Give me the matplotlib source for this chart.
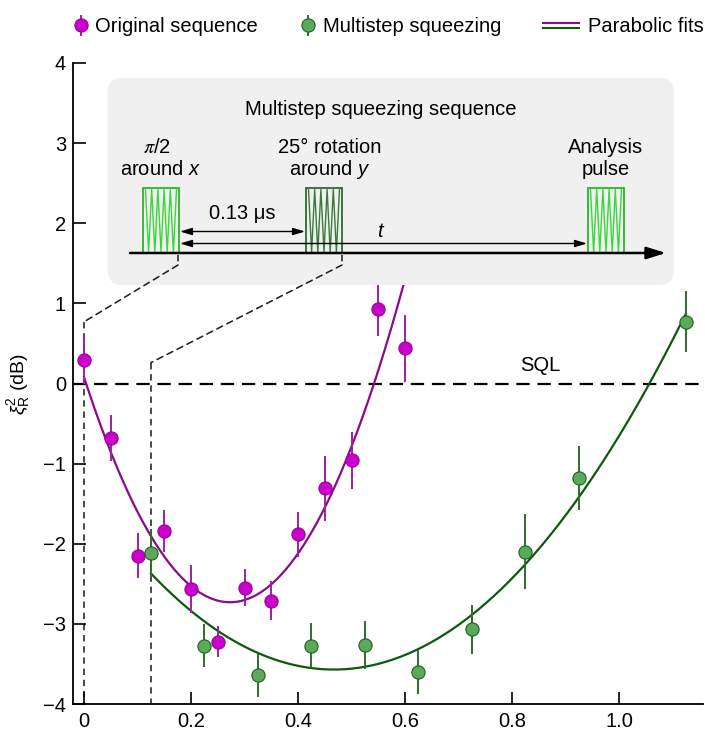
import numpy as np
import matplotlib
matplotlib.use("Agg")
import matplotlib.pyplot as plt
from matplotlib.patches import FancyBboxPatch, Rectangle, ConnectionPatch
from matplotlib.lines import Line2D
from matplotlib.legend_handler import HandlerBase

plt.rcParams["font.family"] = ["Liberation Sans", "DejaVu Sans"]
plt.rcParams["mathtext.fontset"] = "custom"
plt.rcParams["mathtext.rm"] = "Liberation Sans"
plt.rcParams["mathtext.it"] = "Liberation Sans:italic"
plt.rcParams["mathtext.sf"] = "Liberation Sans"
FS = 14.5

# --- measured squeezing vs. evolution time (us) ---
t_orig = [0.0, 0.05, 0.10, 0.15, 0.20, 0.25, 0.30, 0.35, 0.40, 0.45, 0.50, 0.55, 0.60]
xi_orig = [0.29, -0.68, -2.15, -1.84, -2.56, -3.22, -2.55, -2.71, -1.88, -1.31, -0.96, 0.93, 0.44]
err_orig = [0.30, 0.29, 0.28, 0.26, 0.30, 0.19, 0.23, 0.24, 0.28, 0.41, 0.36, 0.34, 0.42]

t_multi = [0.125, 0.225, 0.325, 0.425, 0.525, 0.625, 0.725, 0.825, 0.925, 1.125]
xi_multi = [-2.11, -3.27, -3.64, -3.27, -3.26, -3.60, -3.07, -2.10, -1.18, 0.77]
err_multi = [0.30, 0.27, 0.27, 0.28, 0.30, 0.27, 0.31, 0.47, 0.40, 0.38]

# parabolic fits: curvature, vertex time, vertex value, fit range
fit_orig = dict(a=37.7, t0=0.273, y0=-2.73, t_range=(0.0, 0.64))
fit_multi = dict(a=10.26, t0=0.467, y0=-3.57, t_range=(0.125, 1.125))

x_ticks = [0, 0.2, 0.4, 0.6, 0.8, 1.0]
x_ticklabels = ["0", "0.2", "0.4", "0.6", "0.8", "1.0"]
y_ticks = [-4, -3, -2, -1, 0, 1, 2, 3, 4]

C_ORIG_FILL, C_ORIG_EDGE, C_ORIG_LINE = "#cc00cc", "#990099", "#8b0a8b"
C_MULTI_FILL, C_MULTI_EDGE, C_MULTI_LINE = "#5aaa5a", "#1f5f1f", "#0b5a0b"

W, H = 705, 735
fig = plt.figure(figsize=(W / 100, H / 100), dpi=100)
ax = fig.add_axes([73 / W, 31 / H, 630 / W, 641 / H])
ax.set_xlim(-0.0206, 1.157)
ax.set_ylim(-4, 4)

for side in ("top", "right"):
    ax.spines[side].set_visible(False)
for side in ("left", "bottom"):
    ax.spines[side].set_linewidth(1.3)
ax.tick_params(direction="in", length=9, width=1.2, labelsize=FS)
ax.tick_params(axis="y", pad=5)
ax.tick_params(axis="x", pad=6)
ax.set_xticks(x_ticks)
ax.set_xticklabels(x_ticklabels)
ax.set_yticks(y_ticks)
ax.set_ylabel(r"$\xi^2_{\mathrm{R}}$ (dB)", fontsize=14, labelpad=8)

# standard quantum limit
ax.axhline(0, color="black", lw=1.6, ls=(0, (6, 3.5)), zorder=2)
ax.text(0.852, 0.22, "SQL", fontsize=FS, ha="center", va="center")


def parabola(p, n=300):
    t = np.linspace(*p["t_range"], n)
    return t, p["a"] * (t - p["t0"]) ** 2 + p["y0"]


tt, yy = parabola(fit_orig)
ax.plot(tt, yy, color=C_ORIG_LINE, lw=1.6, zorder=3)
tt, yy = parabola(fit_multi)
ax.plot(tt, yy, color=C_MULTI_LINE, lw=1.6, zorder=3)

eb_orig = ax.errorbar(t_orig, xi_orig, yerr=err_orig, fmt="o", ms=9.5,
                      mfc=C_ORIG_FILL, mec=C_ORIG_EDGE, mew=0.8,
                      ecolor="#a020a0", elinewidth=1.4, capsize=0, zorder=5)
eb_multi = ax.errorbar(t_multi, xi_multi, yerr=err_multi, fmt="o", ms=9.5,
                       mfc=C_MULTI_FILL, mec=C_MULTI_EDGE, mew=0.8,
                       ecolor="#2e6e2e", elinewidth=1.4, capsize=0, zorder=5)

# --- legend row above the plot ---
class DoubleLineHandler(HandlerBase):
    def create_artists(self, legend, orig_handle, xdescent, ydescent,
                       width, height, fontsize, trans):
        yc = height / 2 - ydescent
        x0, x1 = -xdescent, width - xdescent
        arts = []
        for off, col in ((1.7, C_ORIG_LINE), (-1.7, C_MULTI_LINE)):
            arts.append(Line2D([x0, x1], [yc + off, yc + off], color=col,
                               lw=1.5, transform=trans))
        return arts


fit_handle = (C_ORIG_LINE, C_MULTI_LINE)
leg_y = 1 - 27 / H
common = dict(frameon=False, fontsize=FS, borderpad=0, borderaxespad=0,
              loc="center left")
fig.legend([eb_orig], ["Original sequence"], bbox_to_anchor=(70.5 / W, leg_y),
           handlelength=1.0, handletextpad=0.22, **common)
fig.legend([eb_multi], ["Multistep squeezing"], bbox_to_anchor=(298 / W, leg_y),
           handlelength=1.0, handletextpad=0.22, **common)
fig.legend([fit_handle], ["Parabolic fits"], bbox_to_anchor=(543 / W, leg_y),
           handlelength=1.79, handletextpad=0.42,
           handler_map={tuple: DoubleLineHandler()}, **common)

# --- pulse sequence diagram (overlay in pixel coordinates) ---
ov = fig.add_axes([0, 0, 1, 1])
ov.set_xlim(0, W)
ov.set_ylim(H, 0)
ov.axis("off")
ov.patch.set_visible(False)

box = FancyBboxPatch((107.7, 77.7), 566.3, 207.3,
                     boxstyle="round,pad=0,rounding_size=15",
                     fc="#f0f0f0", ec="none", zorder=1)
ov.add_patch(box)

ov.text(381, 109, "Multistep squeezing sequence", fontsize=FS,
        ha="center", va="center", zorder=3)
ov.text(157, 147, r"$\pi$/2", fontsize=FS, ha="center", va="center",
        math_fontfamily="stix", zorder=3)
ov.text(160, 169, r"around $x$", fontsize=FS, ha="center", va="center", zorder=3)
ov.text(330, 147, "25° rotation", fontsize=FS, ha="center", va="center", zorder=3)
ov.text(330, 169, r"around $y$", fontsize=FS, ha="center", va="center", zorder=3)
ov.text(606, 147, "Analysis", fontsize=FS, ha="center", va="center", zorder=3)
ov.text(606, 169, "pulse", fontsize=FS, ha="center", va="center", zorder=3)


def pulse(x0, x1, top, bottom, edge, wave):
    ov.add_patch(Rectangle((x0, top), x1 - x0, bottom - top, fc="none",
                           ec=edge, lw=1.3, zorder=3))
    n = 11
    xs = np.linspace(x0 + 2.5, x1 - 2.5, n)
    ys = [top + 2 if i % 2 == 0 else bottom - 1 for i in range(n)]
    ov.plot(xs, ys, color=wave, lw=1.0, zorder=3)


pulse(143, 179, 187.5, 253, "#2cb52c", "#3ed63e")
pulse(306, 342, 187.5, 253, "#2f6a2f", "#3d7a3d")
pulse(588, 624, 187.5, 253, "#2cb52c", "#3ed63e")

# time axis
ov.annotate("", xy=(666, 253), xytext=(130, 253),
            arrowprops=dict(arrowstyle="-|>,head_length=0.9,head_width=0.28",
                            mutation_scale=13, lw=1.8, color="black",
                            shrinkA=0, shrinkB=0), zorder=4)
arrow2 = dict(arrowstyle="<|-|>,head_length=0.6,head_width=0.18",
              mutation_scale=12, lw=1.0, color="black", shrinkA=0, shrinkB=0)
ov.annotate("", xy=(305, 231.5), xytext=(180, 231.5), arrowprops=arrow2, zorder=4)
ov.annotate("", xy=(587, 243.5), xytext=(180, 243.5), arrowprops=arrow2, zorder=4)
ov.text(242, 213, "0.13 μs", fontsize=FS, ha="center", va="center", zorder=3)
ov.text(381, 231, r"$t$", fontsize=FS, ha="center", va="center", zorder=3)

# dashed guides from the pulses down to the corresponding start times
guide = dict(color="#222222", lw=1.15, ls=(0, (4, 3)))
for x_px, t_start, y_kink in ((178, 0.0, 0.77), (342, 0.125, 0.26)):
    ov.plot([x_px, x_px], [255, 265], zorder=3, **guide)
    cp = ConnectionPatch(xyA=(x_px, 265), coordsA=ov.transData,
                         xyB=(t_start, y_kink), coordsB=ax.transData,
                         zorder=3, **guide)
    fig.add_artist(cp)
    ax.plot([t_start, t_start], [y_kink, -4], zorder=1, clip_on=False, **guide)

fig.savefig("out.png", dpi=100)
